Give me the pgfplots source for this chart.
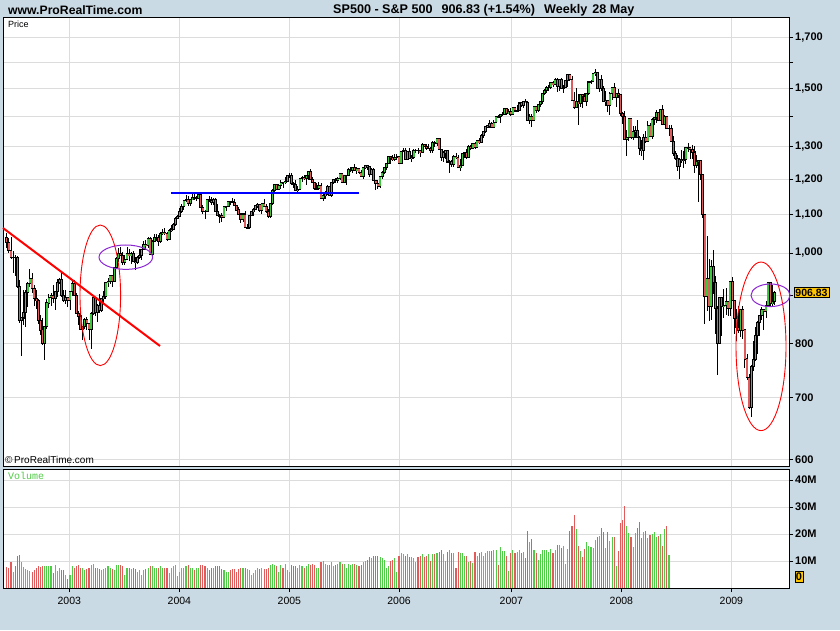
\documentclass[border=0pt]{standalone}
\usepackage{pgfplots}
\pgfplotsset{compat=1.18}
\usepackage{pgfplotstable}
\usepackage{fontspec}
\setmainfont{Liberation Sans}
\setmonofont{Liberation Mono}
\definecolor{bgblue}{RGB}{202,218,228}
\definecolor{cgreen}{RGB}{60,200,60}
\definecolor{cred}{RGB}{224,92,92}
\definecolor{vgreen}{RGB}{80,205,70}
\definecolor{vred}{RGB}{226,90,90}
\definecolor{gridgray}{RGB}{220,220,220}
\definecolor{boxyellow}{RGB}{255,198,0}
\definecolor{annpurple}{RGB}{140,40,210}

\pgfplotstableread{
i o h l c v
0 1040 1050 1012 1027 7.7
1 1027 1039 1001 1007 7.5
2 1007 1041 985 989 9.6
3 989 1004 952 990 5.8
4 990 994 946 989 8.3
5 989 993 918 921 11.8
6 921 935 842 847 12.2
7 847 854 775 852 9.6
8 852 912 837 864 7.7
9 864 913 833 908 7.1
10 908 931 876 928 6.6
11 928 962 919 940 6.2
12 940 951 907 916 6.0
13 916 925 878 893 6.7
14 893 913 872 889 7.5
15 889 892 840 846 8.3
16 846 858 817 827 7.7
17 827 852 798 800 8.2
18 800 836 768 835 8.1
19 835 892 830 884 8.0
20 884 903 873 897 8.0
21 897 907 877 900 8.0
22 900 925 885 894 5.6
23 894 911 868 909 8.7
24 909 937 897 930 6.2
25 930 941 926 936 7.5
26 936 954 897 901 6.8
27 901 913 886 889 6.8
28 889 912 882 895 4.7
29 895 897 876 890 3.5
30 890 911 869 909 5.0
31 909 935 900 927 8.0
32 927 935 899 901 7.5
33 901 906 861 861 8.0
34 861 867 837 856 8.5
35 856 864 827 829 7.5
36 829 836 806 834 7.5
37 834 852 829 848 6.5
38 848 853 827 841 7.0
39 841 842 807 829 7.5
40 829 864 789 862 8.5
41 862 896 858 895 9.0
42 895 895 856 863 7.5
43 863 882 843 879 7.5
44 879 904 863 868 7.0
45 868 894 865 893 6.5
46 893 911 883 898 7.0
47 898 930 892 930 7.5
48 930 940 919 933 8.0
49 933 948 927 945 7.5
50 945 946 920 933 7.0
51 933 966 932 964 6.5
52 964 990 962 987 8.7
53 987 1012 978 998 8.5
54 998 1015 993 995 8.5
55 995 1002 972 976 8.0
56 976 995 970 985 5.0
57 985 1015 983 998 7.5
58 998 1010 981 993 7.5
59 993 1003 974 998 7.0
60 998 1004 979 980 7.5
61 980 990 960 977 7.0
62 977 992 974 990 6.0
63 990 1011 986 993 6.5
64 993 1009 983 1008 5.0
65 1008 1029 1008 1021 6.5
66 1021 1032 1008 1018 7.0
67 1018 1040 1012 1036 7.5
68 1036 1040 995 996 8.0
69 996 1033 990 1029 8.0
70 1029 1048 1028 1038 7.5
71 1038 1049 1030 1039 7.5
72 1039 1045 1018 1028 7.5
73 1028 1053 1026 1050 8.0
74 1050 1062 1045 1053 7.5
75 1053 1063 1045 1050 7.5
76 1050 1052 1031 1035 7.5
77 1035 1060 1035 1058 5.5
78 1058 1071 1053 1061 7.5
79 1061 1076 1058 1074 8.0
80 1074 1092 1068 1089 8.5
81 1089 1098 1087 1095 4.5
82 1095 1118 1092 1108 6.0
83 1108 1128 1105 1122 7.5
84 1122 1140 1113 1139 7.5
85 1139 1155 1135 1141 8.0
86 1141 1150 1122 1131 8.5
87 1131 1143 1124 1142 7.5
88 1142 1158 1139 1146 7.5
89 1146 1158 1140 1144 6.5
90 1144 1152 1136 1145 7.5
91 1145 1163 1143 1156 7.5
92 1156 1159 1118 1120 8.5
93 1120 1126 1100 1109 8.5
94 1109 1113 1088 1108 8.0
95 1108 1142 1108 1141 7.5
96 1141 1150 1135 1139 6.5
97 1139 1148 1126 1134 7.5
98 1134 1146 1126 1140 7.5
99 1140 1146 1107 1107 8.0
100 1107 1128 1098 1098 8.0
101 1098 1102 1076 1096 8.0
102 1096 1103 1079 1093 7.0
103 1093 1123 1092 1121 6.5
104 1121 1123 1110 1122 6.0
105 1122 1138 1122 1136 6.0
106 1136 1138 1126 1135 6.5
107 1135 1146 1131 1134 7.0
108 1134 1144 1123 1125 7.0
109 1125 1127 1110 1112 6.0
110 1112 1119 1101 1101 7.0
111 1101 1102 1078 1086 7.5
112 1086 1103 1079 1101 7.5
113 1101 1108 1063 1064 7.5
114 1064 1074 1060 1064 7.0
115 1064 1099 1062 1098 6.5
116 1098 1109 1095 1107 5.0
117 1107 1118 1097 1113 5.5
118 1113 1126 1112 1123 6.5
119 1123 1131 1117 1128 7.5
120 1128 1129 1107 1110 7.0
121 1110 1132 1101 1131 7.5
122 1131 1143 1121 1122 7.0
123 1122 1128 1104 1108 7.0
124 1108 1115 1090 1095 7.5
125 1095 1131 1090 1130 8.5
126 1130 1170 1127 1167 9.0
127 1167 1185 1161 1184 8.5
128 1184 1185 1169 1170 8.0
129 1170 1186 1168 1182 6.0
130 1182 1197 1172 1191 8.5
131 1191 1192 1174 1189 7.5
132 1189 1206 1185 1194 9.0
133 1194 1211 1194 1210 6.5
134 1210 1217 1203 1212 6.0
135 1212 1217 1183 1186 8.5
136 1186 1191 1175 1184 8.0
137 1184 1196 1167 1168 8.0
138 1168 1179 1163 1171 7.5
139 1171 1204 1170 1203 8.5
140 1203 1208 1193 1205 8.0
141 1205 1212 1198 1201 7.5
142 1201 1212 1183 1211 8.0
143 1211 1225 1198 1222 9.0
144 1222 1229 1198 1200 8.5
145 1200 1206 1188 1190 9.0
146 1190 1192 1169 1172 8.5
147 1172 1189 1170 1172 7.5
148 1172 1191 1168 1182 7.5
149 1182 1190 1142 1143 9.5
150 1143 1163 1136 1152 10.0
151 1152 1165 1143 1157 9.0
152 1157 1183 1153 1179 8.5
153 1179 1180 1153 1154 8.5
154 1154 1192 1148 1190 9.5
155 1190 1199 1185 1198 8.0
156 1198 1204 1188 1197 8.5
157 1197 1207 1189 1201 9.0
158 1201 1219 1197 1216 9.5
159 1216 1219 1190 1191 9.0
160 1191 1209 1188 1211 9.0
161 1211 1213 1183 1212 7.5
162 1212 1233 1208 1228 9.0
163 1228 1236 1220 1229 8.5
164 1229 1237 1219 1234 9.0
165 1234 1245 1224 1226 9.0
166 1226 1237 1216 1231 8.5
167 1231 1233 1215 1220 8.0
168 1220 1228 1205 1208 8.5
169 1208 1235 1201 1235 9.5
170 1235 1243 1230 1241 10.0
171 1241 1244 1227 1237 10.5
172 1237 1237 1205 1215 11.5
173 1215 1233 1211 1228 11.0
174 1228 1233 1195 1195 12.0
175 1195 1197 1169 1186 12.0
176 1186 1197 1170 1179 12.0
177 1179 1208 1175 1207 11.5
178 1207 1224 1201 1220 11.0
179 1220 1235 1215 1234 10.5
180 1234 1250 1226 1248 7.5
181 1248 1269 1247 1268 8.0
182 1268 1271 1246 1265 10.0
183 1265 1273 1256 1260 10.5
184 1260 1276 1255 1267 11.0
185 1267 1276 1257 1268 6.0
186 1268 1271 1248 1248 12.0
187 1248 1286 1245 1285 13.0
188 1285 1295 1282 1287 12.5
189 1287 1295 1260 1261 12.0
190 1261 1285 1258 1284 12.5
191 1284 1295 1262 1264 11.5
192 1264 1275 1253 1267 11.5
193 1267 1294 1260 1287 11.0
194 1287 1294 1280 1289 9.5
195 1289 1297 1277 1287 11.5
196 1287 1289 1268 1282 12.0
197 1282 1311 1281 1307 12.5
198 1307 1310 1298 1302 11.5
199 1302 1310 1291 1295 12.0
200 1295 1310 1294 1295 12.5
201 1295 1300 1280 1289 10.0
202 1289 1318 1280 1312 12.5
203 1312 1317 1298 1311 12.5
204 1311 1326 1303 1325 13.0
205 1325 1326 1291 1291 13.5
206 1291 1294 1256 1267 14.0
207 1267 1285 1252 1280 12.5
208 1280 1290 1262 1289 10.0
209 1289 1290 1250 1252 13.5
210 1252 1258 1219 1252 14.0
211 1252 1258 1237 1245 13.0
212 1245 1273 1238 1270 13.0
213 1270 1281 1262 1265 7.5
214 1265 1273 1234 1236 13.5
215 1236 1262 1224 1240 13.0
216 1240 1280 1240 1279 13.0
217 1279 1283 1265 1280 12.0
218 1280 1292 1262 1267 12.0
219 1267 1305 1267 1302 9.5
220 1302 1304 1288 1295 10.0
221 1295 1312 1293 1311 9.4
222 1311 1314 1294 1299 13.5
223 1299 1322 1296 1319 12.0
224 1319 1328 1310 1314 13.0
225 1314 1340 1313 1336 13.3
226 1336 1353 1327 1350 12.0
227 1350 1366 1344 1365 13.0
228 1365 1372 1360 1369 13.7
229 1369 1389 1363 1377 13.7
230 1377 1381 1360 1364 13.7
231 1364 1388 1362 1381 14.0
232 1381 1404 1379 1401 14.0
233 1401 1406 1398 1400 8.5
234 1400 1410 1378 1409 15.3
235 1409 1418 1401 1409 13.7
236 1409 1431 1405 1427 13.7
237 1427 1430 1407 1410 12.0
238 1410 1427 1410 1418 6.3
239 1418 1429 1404 1409 13.0
240 1409 1433 1405 1431 14.0
241 1431 1435 1418 1420 13.0
242 1420 1441 1416 1422 13.5
243 1422 1449 1419 1448 14.0
244 1448 1453 1434 1438 13.0
245 1438 1457 1431 1455 13.5
246 1455 1461 1448 1451 11.0
247 1451 1456 1384 1387 21.0
248 1387 1410 1374 1402 17.0
249 1402 1410 1364 1386 18.0
250 1386 1437 1386 1436 14.0
251 1436 1438 1414 1421 13.0
252 1421 1444 1417 1444 10.5
253 1444 1453 1434 1452 12.5
254 1452 1484 1446 1484 14.0
255 1484 1498 1478 1494 14.0
256 1494 1510 1483 1505 14.0
257 1505 1513 1491 1505 13.5
258 1505 1522 1498 1522 14.5
259 1522 1530 1505 1515 13.0
260 1515 1540 1513 1536 14.0
261 1536 1540 1489 1507 16.0
262 1507 1538 1492 1533 16.0
263 1533 1540 1500 1502 15.0
264 1502 1514 1484 1503 15.5
265 1503 1532 1503 1530 9.0
266 1530 1556 1506 1552 14.5
267 1552 1555 1529 1534 21.0
268 1534 1547 1458 1458 23.0
269 1458 1488 1427 1433 27.0
270 1433 1504 1430 1453 22.0
271 1453 1479 1370 1445 15.5
272 1445 1479 1433 1479 13.7
273 1479 1481 1432 1473 11.6
274 1473 1486 1453 1454 14.3
275 1454 1485 1439 1484 17.0
276 1484 1530 1476 1525 15.5
277 1525 1533 1518 1527 15.2
278 1527 1560 1527 1557 14.8
279 1557 1576 1548 1561 17.8
280 1561 1564 1500 1501 19.0
281 1501 1536 1489 1535 19.3
282 1535 1552 1490 1502 22.2
283 1502 1510 1453 1453 20.7
284 1453 1492 1438 1458 14.8
285 1458 1460 1416 1440 20.7
286 1440 1488 1406 1481 17.5
287 1481 1508 1460 1504 19.0
288 1504 1523 1467 1467 19.0
289 1467 1485 1435 1484 8.1
290 1484 1498 1467 1478 13.7
291 1478 1479 1404 1411 24.0
292 1411 1417 1375 1401 25.2
293 1401 1420 1325 1325 30.4
294 1325 1355 1270 1331 23.0
295 1331 1396 1317 1395 20.4
296 1395 1396 1324 1331 19.0
297 1331 1368 1321 1349 15.2
298 1349 1368 1327 1353 20.4
299 1353 1388 1330 1331 22.2
300 1331 1335 1275 1293 24.4
301 1293 1321 1270 1288 18.5
302 1288 1341 1257 1329 20.7
303 1329 1350 1311 1316 21.1
304 1316 1385 1315 1370 18.5
305 1370 1380 1331 1332 19.6
306 1332 1395 1324 1390 20.0
307 1390 1400 1371 1398 20.7
308 1398 1422 1380 1413 19.0
309 1413 1416 1384 1388 19.3
310 1388 1426 1387 1425 20.0
311 1425 1441 1373 1375 15.5
312 1375 1406 1373 1400 21.9
313 1400 1404 1359 1360 23.0
314 1360 1370 1335 1360 12.2
315 1360 1370 1317 1317 0
316 1317 1336 1272 1278 0
317 1278 1285 1257 1262 0
318 1262 1275 1225 1239 0
319 1239 1263 1200 1260 0
320 1260 1291 1250 1257 0
321 1257 1285 1234 1260 0
322 1260 1297 1247 1296 0
323 1296 1313 1283 1298 0
324 1298 1300 1261 1292 0
325 1292 1304 1261 1283 0
326 1283 1303 1217 1242 0
327 1242 1274 1233 1252 0
328 1252 1255 1133 1255 0
329 1255 1255 1197 1213 0
330 1213 1215 1089 1099 0
331 1099 1099 840 899 0
332 899 1044 866 940 0
333 940 985 845 877 0
334 877 984 848 968 0
335 968 1007 904 930 0
336 930 946 818 873 0
337 873 878 741 800 0
338 800 896 800 896 0
339 896 896 815 876 0
340 876 916 851 879 0
341 879 918 858 887 0
342 887 887 857 873 0
343 873 934 857 932 0
344 932 943 888 890 0
345 890 891 818 850 0
346 850 871 804 832 0
347 832 877 821 826 0
348 826 870 812 869 0
349 869 877 808 827 0
350 827 828 754 770 0
351 770 779 731 735 0
352 735 742 681 683 0
353 683 758 667 756 0
354 756 804 748 769 0
355 769 833 766 816 0
356 816 845 779 843 0
357 843 857 814 857 0
358 857 876 848 870 0
359 870 871 826 866 0
360 866 888 851 878 0
361 878 930 875 929 0
362 929 930 878 883 0
363 883 924 878 887 0
364 887 910 880 907 0
}\spx

\begin{document}
\begin{tikzpicture}[x=1pt,y=1pt]
\fill[bgblue] (0,0) rectangle (840,630);
\useasboundingbox (0,0) rectangle (840,630);

% ---------------- price panel ----------------
\begin{axis}[
  at={(4pt,164pt)}, anchor=south west, scale only axis,
  width=785pt, height=448pt,
  xmin=-1.3, xmax=370.9, ymin=2.771715, ymax=3.251885,
  axis background/.style={fill=white},
  axis line style={black, line width=1pt},
  xtick={29.68,81.84,134.0,186.0,239.26,291.42,343.58},
  xticklabels={}, x tick style={draw=none},
  ytick={2.778151,2.845098,2.903090,2.954243,3,3.041393,3.079181,3.113943,3.146128,3.176091,3.204120,3.230449},
  yticklabels={600,700,800,,{1,000},{1,100},{1,200},{1,300},,{1,500},,{1,700}},
  ytick pos=right, yticklabel pos=right,
  tick align=outside, major tick length=4pt,
  y tick style={black, line width=1pt},
  grid=major, grid style={gridgray, line width=1pt},
  yticklabel style={font=\bfseries\fontsize{11}{12}\selectfont, inner sep=2pt},
  clip=true,
]
\addplot[draw=none, mark=none, forget plot,
  error bars/.cd, y dir=both, y explicit, error mark=none,
  error bar style={draw=black, line width=0.9pt}]
  table[x=i, y expr={(log10(\thisrow{h})+log10(\thisrow{l}))/2},
        y error expr={(log10(\thisrow{h})-log10(\thisrow{l}))/2}] {\spx};
\addplot[draw=none, mark=none, forget plot,
  error bars/.cd, y dir=both, y explicit, error mark=none,
  error bar style={draw=black, line width=2.8pt}]
  table[x=i, y expr={(log10(\thisrow{o})+log10(\thisrow{c}))/2},
        y error expr={abs(log10(\thisrow{c})-log10(\thisrow{o}))/2+0.0006}] {\spx};
\addplot[draw=none, mark=none, forget plot,
  error bars/.cd, y dir=both, y explicit, error mark=none,
  error bar style={draw=cgreen, line width=1.4pt}]
  table[x=i, y expr={(\thisrow{c}>=\thisrow{o}) ? (log10(\thisrow{o})+log10(\thisrow{c}))/2 : nan},
        y error expr={max(abs(log10(\thisrow{c})-log10(\thisrow{o}))/2-0.0005,0)}] {\spx};
\addplot[draw=none, mark=none, forget plot,
  error bars/.cd, y dir=both, y explicit, error mark=none,
  error bar style={draw=cred, line width=1.4pt}]
  table[x=i, y expr={(\thisrow{c}<\thisrow{o}) ? (log10(\thisrow{o})+log10(\thisrow{c}))/2 : nan},
        y error expr={max(abs(log10(\thisrow{c})-log10(\thisrow{o}))/2-0.0005,0)}] {\spx};
\end{axis}

% ---------------- volume panel ----------------
\begin{axis}[
  at={(4pt,42pt)}, anchor=south west, scale only axis,
  width=785pt, height=119pt,
  xmin=-1.3, xmax=370.9, ymin=0, ymax=44.1,
  axis background/.style={fill=white},
  axis line style={black, line width=1pt},
  xtick={29.68,81.84,134.0,186.0,239.26,291.42,343.58},
  xticklabels={2003,2004,2005,2006,2007,2008,2009},
  xtick pos=bottom,
  ytick={10,20,30,40}, yticklabels={10M,20M,30M,40M},
  ytick pos=right, yticklabel pos=right,
  tick align=outside, major tick length=4pt,
  tick style={black, line width=1pt},
  grid=major, grid style={gridgray, line width=1pt},
  yticklabel style={font=\bfseries\fontsize{11}{12}\selectfont, inner sep=2pt},
  xticklabel style={font=\fontsize{10.5}{12}\selectfont, yshift=-2pt},
  clip=true,
]
\addplot[ycomb, draw=vgreen, line width=1.1pt, mark=none, forget plot]
  table[x=i, y expr={(\thisrow{v}>0 && \thisrow{c}>=\thisrow{o}) ? \thisrow{v} : nan}] {\spx};
\addplot[ycomb, draw=vred, line width=1.1pt, mark=none, forget plot]
  table[x=i, y expr={(\thisrow{v}>0 && \thisrow{c}<\thisrow{o}) ? \thisrow{v} : nan}] {\spx};
\end{axis}

% ---------------- texts ----------------
\node[anchor=west, font=\bfseries\fontsize{12.2}{13}\selectfont, inner sep=0pt] at (8,620) {www.ProRealTime.com};
\node[anchor=west, font=\bfseries\fontsize{12.6}{14}\selectfont, inner sep=0pt] at (333,620)
  {SP500 - S\&P 500\hspace{9pt}906.83 (+1.54\%)\hspace{9pt}Weekly\hspace{5pt}28 May};
\node[anchor=west, font=\fontsize{9}{10}\selectfont, inner sep=0pt] at (8,606) {Price};
\node[anchor=west, font=\fontsize{10}{11}\selectfont, inner sep=0pt] at (5,170) {\textcopyright\,ProRealTime.com};
\node[anchor=west, font=\ttfamily\fontsize{10}{11}\selectfont, text=vgreen, inner sep=0pt] at (8,154) {Volume};

% price marker box
\node[fill=boxyellow, draw=black, line width=0.8pt, inner sep=1.5pt,
  font=\bfseries\fontsize{10.5}{11}\selectfont, anchor=west] at (793.5,337.4) {906.83};
\node[fill=boxyellow, draw=black, line width=0.8pt, inner xsep=1pt, inner ysep=1.5pt,
  font=\bfseries\fontsize{11}{12}\selectfont, anchor=west] at (794.5,53) {0};

% ---------------- annotations ----------------
\draw[red, line width=2pt] (3,402) -- (160,284);
\draw[red, line width=0.9pt] (100.3,334.7) ellipse [x radius=20.3, y radius=70.3];
\draw[annpurple, line width=1pt] (125.8,372.8) ellipse [x radius=26.8, y radius=12.2];
\draw[blue, line width=2.2pt] (171,437.3) -- (358.7,437.3);
\draw[red, line width=0.9pt] (761,283.7) ellipse [x radius=25, y radius=84.3];
\draw[annpurple, line width=1pt] (770.5,334.7) ellipse [x radius=19.5, y radius=11.3];
\end{tikzpicture}
\end{document}
